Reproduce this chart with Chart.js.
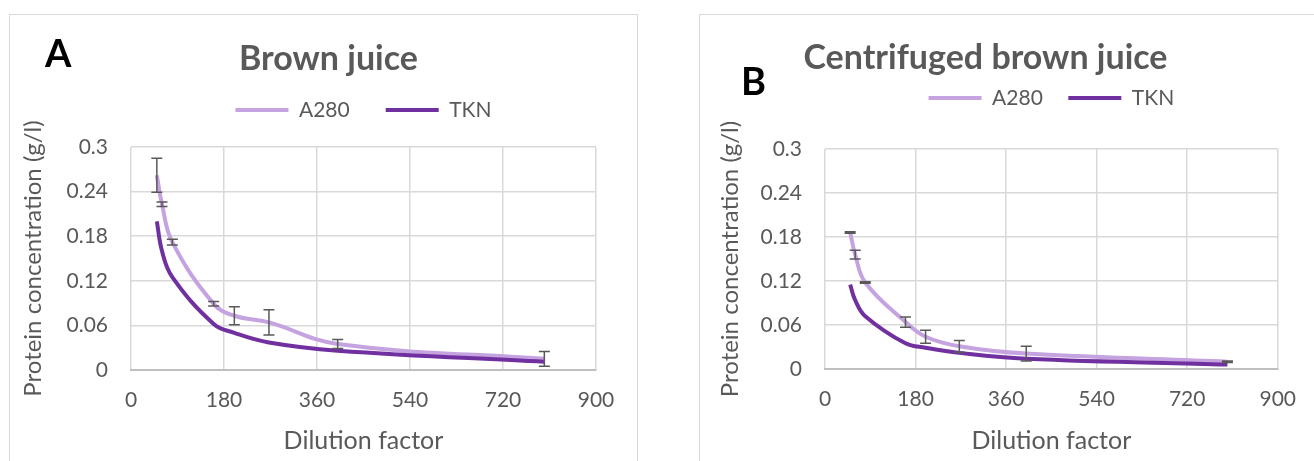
<!DOCTYPE html>
<html>
<head>
<meta charset="utf-8">
<script src="https://cdn.jsdelivr.net/npm/chart.js@4.4.1/dist/chart.umd.min.js"></script>
<style>
  body { margin: 0; background: #fff; width: 1314px; height: 461px; overflow: hidden; position: relative; }
  .box { position: absolute; border: 1px solid #d9d9d9; }
  #boxA { left: 9px; top: 14px; width: 627px; height: 470px; }
  #boxB { left: 699px; top: 14px; width: 630px; height: 470px; }
  .panel { position: absolute; font: bold 38px Lato, sans-serif; color: #000; line-height: 1; }
  #labelA { left: 45px; top: 33px; }
  #labelB { left: 741px; top: 61px; }
  canvas { position: absolute; top: 0; }
  #chartA { left: 0; }
  #chartB { left: 657px; }
</style>
</head>
<body>
<div class="box" id="boxA"></div>
<div class="box" id="boxB"></div>
<canvas id="chartA" width="657" height="461"></canvas>
<canvas id="chartB" width="657" height="461"></canvas>
<div class="panel" id="labelA">A</div>
<div class="panel" id="labelB">B</div>
<script>
// Fatores de diluição (eixo x) e marcas dos eixos
const dilution = [50, 60, 80, 160, 200, 267, 400, 800];
const xTicks = [0, 180, 360, 540, 720, 900];
const yTicks = [0, 0.06, 0.12, 0.18, 0.24, 0.3];

// A - Brown juice
const a280Brown = [0.262, 0.223, 0.172, 0.089, 0.073, 0.064, 0.035, 0.015];
const a280BrownErr = [0.023, 0.003, 0.004, 0.003, 0.012, 0.017, 0.006, 0.010];
const tknBrown = [0.200, 0.160, 0.125, 0.062, 0.050, 0.037, 0.026, 0.011];

// B - Centrifuged brown juice
const a280Centr = [0.186, 0.156, 0.118, 0.064, 0.044, 0.031, 0.021, 0.010];
const a280CentrErr = [0.001, 0.006, 0.001, 0.007, 0.009, 0.008, 0.010, 0.001];
const tknCentr = [0.115, 0.094, 0.072, 0.035, 0.029, 0.022, 0.014, 0.006];

const LIGHT = '#c5a2e0';
const DARK = '#7030a0';
const GREY = '#595959';

Chart.defaults.font.family = 'Lato, sans-serif';
Chart.defaults.color = GREY;

// barras de erro desenhadas pelas escalas do gráfico
const errorBars = {
  id: 'errorBars',
  afterDatasetsDraw(chart) {
    const { ctx, scales: { x, y } } = chart;
    ctx.save();
    ctx.strokeStyle = GREY;
    ctx.lineWidth = 1.5;
    chart.data.datasets.forEach((ds) => {
      if (!ds.errors) return;
      ds.data.forEach((p, i) => {
        const px = x.getPixelForValue(p.x);
        const top = y.getPixelForValue(p.y + ds.errors[i]);
        const bot = y.getPixelForValue(p.y - ds.errors[i]);
        ctx.beginPath();
        ctx.moveTo(px, top); ctx.lineTo(px, bot);
        ctx.moveTo(px - 5.5, top); ctx.lineTo(px + 5.5, top);
        ctx.moveTo(px - 5.5, bot); ctx.lineTo(px + 5.5, bot);
        ctx.stroke();
      });
    });
    ctx.restore();
  }
};

// espaço extra abaixo da legenda
const legendGap = {
  id: 'legendGap',
  beforeInit(chart, args, opts) {
    const fit = chart.legend.fit;
    chart.legend.fit = function () {
      fit.call(this);
      this.height += opts.extra;
    };
  }
};

const pts = (ys) => dilution.map((d, i) => ({ x: d, y: ys[i] }));

function criaGrafico(id, c) {
  new Chart(document.getElementById(id), {
    type: 'line',
    data: {
      datasets: [
        { label: 'A280', data: pts(c.a280), errors: c.err, borderColor: LIGHT, backgroundColor: LIGHT, borderWidth: 4, pointRadius: 0, tension: 0.4, order: 1 },
        { label: 'TKN', data: pts(c.tkn), borderColor: DARK, backgroundColor: DARK, borderWidth: 4, pointRadius: 0, tension: 0.4, order: 0 },
      ],
    },
    options: {
      responsive: false,
      animation: false,
      devicePixelRatio: 1,
      layout: { padding: 0 },
      plugins: {
        title: {
          display: true,
          text: c.title,
          color: GREY,
          font: { size: 34, weight: 'bold', lineHeight: 1.2 },
          padding: { top: c.titleTop, bottom: c.titleBottom },
        },
        legend: {
          fullSize: false,
          labels: {
            boxWidth: 53,
            boxHeight: 4,
            padding: c.legendPad,
            color: GREY,
            font: { size: 21 },
            generateLabels: (chart) => chart.data.datasets.map((ds, i) => ({
              text: ds.label, fillStyle: ds.borderColor, strokeStyle: ds.borderColor, lineWidth: 0, datasetIndex: i, fontColor: GREY,
            })),
          },
        },
        legendGap: { extra: c.legendExtra },
        tooltip: { enabled: false },
      },
      scales: {
        x: {
          type: 'linear',
          min: 0,
          max: 900,
          afterBuildTicks: (s) => { s.ticks = xTicks.map((v) => ({ value: v })); },
          ticks: { padding: 18, font: { size: 21 }, color: GREY },
          grid: { color: '#d9d9d9', lineWidth: 1.5, drawTicks: false },
          border: { color: '#bfbfbf', width: 2 },
          title: { display: true, text: 'Dilution factor', color: GREY, font: { size: 25 }, padding: { top: 0, bottom: 5 } },
          afterFit: (s) => { s.height = c.xHeight; },
        },
        y: {
          min: 0,
          max: 0.3,
          afterBuildTicks: (s) => { s.ticks = yTicks.map((v) => ({ value: v })); },
          ticks: { padding: 23, font: { size: 21 }, color: GREY, callback: (v) => String(v) },
          grid: { color: '#d9d9d9', lineWidth: 1.5, drawTicks: false },
          border: { display: false },
          title: { display: true, text: 'Protein concentration (g/l)', color: GREY, font: { size: 24 }, padding: { top: c.yTitlePad, bottom: 0 } },
          afterFit: (s) => { s.width = c.yWidth; },
        },
        y2: {
          position: 'right',
          grid: { display: false },
          border: { display: false },
          ticks: { display: false },
          afterFit: (s) => { s.width = c.rightWidth; },
        },
      },
    },
    plugins: [errorBars, legendGap],
  });
}

window.onload = () => {
  criaGrafico('chartA', {
    title: 'Brown juice', a280: a280Brown, err: a280BrownErr, tkn: tknBrown,
    titleTop: 39, titleBottom: -16.3, legendPad: 36, legendExtra: 16.5,
    xHeight: 91, yWidth: 131, rightWidth: 61, yTitlePad: 19,
  });
  criaGrafico('chartB', {
    title: 'Centrifuged brown juice', a280: a280Centr, err: a280CentrErr, tkn: tknCentr,
    titleTop: 38, titleBottom: -16.8, legendPad: 25.5, legendExtra: 30.5,
    xHeight: 92, yWidth: 168, rightWidth: 31, yTitlePad: 59,
  });
};
</script>
</body>
</html>
